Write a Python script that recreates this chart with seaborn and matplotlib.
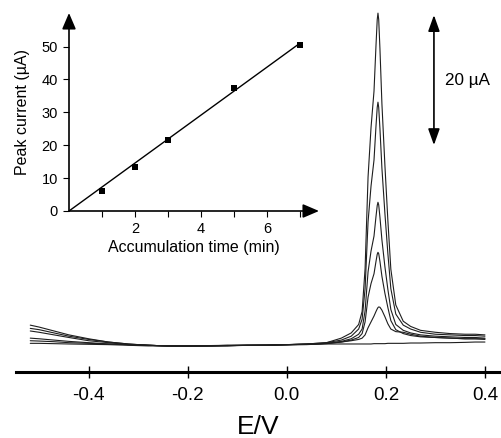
import numpy as np
import pandas as pd
import matplotlib
matplotlib.use("Agg")
import matplotlib.pyplot as plt
import seaborn as sns

# ---------------- data ----------------
# potential grid (V)
E_left = [-0.518, -0.50, -0.47, -0.44, -0.40, -0.36, -0.32, -0.28, -0.24, -0.20,
          -0.16, -0.12, -0.08, -0.04, 0.00, 0.04, 0.08, 0.11, 0.13]
E_peak = [0.145, 0.152, 0.158, 0.164, 0.17, 0.176, 0.180, 0.1825, 0.184, 0.1855, 0.188, 0.192,
          0.198, 0.204, 0.21, 0.22, 0.235, 0.25, 0.27, 0.30, 0.33, 0.36, 0.38, 0.40]
potential = E_left + E_peak

# currents (uA) of the six voltammograms
curve_7min = [2.9, 2.6, 2.0, 1.4, 0.8, 0.3, 0.0, -0.2, -0.3, -0.3, -0.3, -0.2, -0.2, -0.2, -0.1, 0.0, 0.2, 0.9, 1.7,
              3.0, 5.0, 11.6, 25.7, 33.3, 38.9, 45.9, 49.9, 50.9, 49.9, 45.4, 36.9,
              27.5, 19.0, 11.5, 6.0, 3.5, 2.7, 2.1, 1.8, 1.6, 1.5, 1.5, 1.4]
curve_5min = [2.4, 2.2, 1.7, 1.2, 0.7, 0.3, 0.0, -0.2, -0.3, -0.35, -0.3, -0.25, -0.2, -0.2, -0.1, 0.0, 0.2, 0.6, 1.2,
              2.3, 3.8, 8.5, 18.8, 24.3, 28.3, 33.5, 36.4, 37.2, 36.4, 33.1, 27.0,
              20.1, 13.9, 8.5, 4.6, 2.9, 2.3, 1.8, 1.5, 1.4, 1.3, 1.3, 1.2]
curve_3min = [2.0, 1.8, 1.4, 1.0, 0.5, 0.2, -0.1, -0.2, -0.3, -0.3, -0.3, -0.3, -0.2, -0.2, -0.1, -0.05, 0.1, 0.4, 0.8,
              1.5, 2.3, 5.1, 11.1, 14.3, 16.6, 19.6, 21.3, 21.8, 21.4, 19.5, 16.0,
              11.9, 8.4, 5.3, 3.0, 2.1, 1.7, 1.4, 1.2, 1.1, 1.0, 1.0, 0.9]
curve_2min = [0.9, 0.8, 0.6, 0.4, 0.2, 0.0, -0.1, -0.2, -0.3, -0.3, -0.25, -0.2, -0.2, -0.2, -0.15, -0.1, 0.05, 0.3, 0.6,
              1.0, 1.6, 3.4, 7.2, 9.3, 10.8, 12.7, 13.8, 14.1, 13.9, 12.7, 10.4,
              7.8, 5.6, 3.6, 2.2, 1.6, 1.3, 1.1, 1.0, 0.9, 0.8, 0.8, 0.7]
curve_1min = [0.5, 0.45, 0.35, 0.2, 0.1, 0.0, -0.1, -0.2, -0.3, -0.35, -0.3, -0.25, -0.2, -0.15, -0.1, -0.05, 0.1, 0.3, 0.5,
              0.7, 0.9, 1.4, 2.5, 3.4, 4.3, 5.0, 5.4, 5.6, 5.7, 5.65, 5.2,
              4.2, 3.1, 2.3, 1.9, 1.8, 1.5, 1.2, 1.0, 0.9, 0.8, 0.8, 0.8]
curve_blank = [0.1, 0.1, 0.05, 0.0, -0.05, -0.1, -0.2, -0.3, -0.3, -0.3, -0.3, -0.25, -0.2, -0.15, -0.1, -0.05, 0.0, 0.0, 0.0,
               0.0, 0.0, 0.0, 0.0, 0.0, 0.05, 0.05, 0.05, 0.05, 0.05, 0.05, 0.05,
               0.05, 0.1, 0.1, 0.1, 0.1, 0.15, 0.15, 0.2, 0.2, 0.25, 0.3, 0.3]

xticks_main = [-0.4, -0.2, 0.0, 0.2, 0.4]
xticklabels_main = ["-0.4", "-0.2", "0.0", "0.2", "0.4"]

# inset: peak current vs accumulation time
acc_time = [1, 2, 3, 5, 7]
peak_current = [6.0, 13.5, 21.5, 37.5, 50.5]
fit_time = [0, 7]
fit_current = [0, 51.0]
inset_xticks = [1, 2, 3, 4, 5, 6, 7]
inset_xticklabels = ["", "2", "", "4", "", "6", ""]
inset_yticks = [0, 10, 20, 30, 40, 50]

scale_bar = [30.6, 50.6]   # 20 uA scale bar (uA)

# ---------------- figure ----------------
sns.set_theme(style="white")
plt.rcParams["font.family"] = ["Liberation Sans", "DejaVu Sans"]
plt.rcParams["text.color"] = "black"
plt.rcParams["axes.labelcolor"] = "black"
plt.rcParams["xtick.color"] = "black"
plt.rcParams["ytick.color"] = "black"
W, H = 501, 438
fig = plt.figure(figsize=(W / 100, H / 100), dpi=100)

ax = fig.add_axes([16 / W, 1 - 372 / H, (W - 16) / W, 372 / H])
ax.set_facecolor("none")

curves = {"7": curve_7min, "5": curve_5min, "3": curve_3min,
          "2": curve_2min, "1": curve_1min, "0": curve_blank}
df = pd.concat([pd.DataFrame({"E": potential, "I": v, "curve": k}) for k, v in curves.items()])
sns.lineplot(data=df, x="E", y="I", hue="curve", units="curve", estimator=None, sort=False,
             palette={k: "#1e1e1e" for k in curves}, linewidth=0.8, legend=False, ax=ax)

ax.set_xlim(-0.5468, 0.4324)
ax.set_ylim(-4.31, 52.92)
for s in ["left", "right", "top"]:
    ax.spines[s].set_visible(False)
ax.spines["bottom"].set_linewidth(2.2)
ax.spines["bottom"].set_color("black")
ax.set_yticks([])
ax.set_xticks(xticks_main)
ax.set_xticklabels(xticklabels_main, fontsize=13.5)
ax.tick_params(axis="x", direction="inout", length=8, width=1, color="black", labelcolor="black",
               pad=7, bottom=True)
ax.set_xlabel("E/V", fontsize=19, labelpad=8)
ax.set_ylabel("")

# 20 uA scale bar
ax.annotate("", xy=(0.297, scale_bar[1]), xytext=(0.297, scale_bar[0]),
            arrowprops=dict(arrowstyle="<|-|>,head_length=0.7,head_width=0.25", color="black",
                            lw=1.2, shrinkA=0, shrinkB=0, mutation_scale=14))
ax.text(0.319, (scale_bar[0] + scale_bar[1]) / 2, "20 µA", fontsize=12.3, va="center", ha="left")

# ---------------- inset ----------------
ix0, iy0 = 69, 211
axi = fig.add_axes([ix0 / W, 1 - iy0 / H, 250 / W, 198 / H])
axi.set_facecolor("none")
sns.lineplot(x=fit_time, y=fit_current, color="black", linewidth=1.0, ax=axi)
sns.scatterplot(x=acc_time, y=peak_current, marker="s", s=24, color="black",
                edgecolor="black", linewidth=0, ax=axi, zorder=5)
axi.set_xlim(0, 7.58)
axi.set_ylim(0, 60.2)
for s in axi.spines.values():
    s.set_visible(False)
axi.annotate("", xy=(1, 0), xytext=(0, 0), xycoords="axes fraction",
             arrowprops=dict(arrowstyle="-|>,head_length=0.7,head_width=0.3", color="black",
                             lw=1.2, shrinkA=0, shrinkB=0, mutation_scale=14))
axi.annotate("", xy=(0, 1), xytext=(0, 0), xycoords="axes fraction",
             arrowprops=dict(arrowstyle="-|>,head_length=0.7,head_width=0.3", color="black",
                             lw=1.2, shrinkA=0, shrinkB=0, mutation_scale=14))
axi.set_xticks(inset_xticks)
axi.set_xticklabels(inset_xticklabels, fontsize=10.5)
axi.set_yticks(inset_yticks)
axi.set_yticklabels([str(v) for v in inset_yticks], fontsize=10.5)
axi.tick_params(axis="both", direction="out", length=4, width=0.8, color="black", labelcolor="black",
                pad=4, bottom=True, left=True)
axi.set_xlabel("Accumulation time (min)", fontsize=11.5, labelpad=3)
axi.set_ylabel("Peak current (µA)", fontsize=11.5, labelpad=8)

fig.savefig("out.png", dpi=100)
